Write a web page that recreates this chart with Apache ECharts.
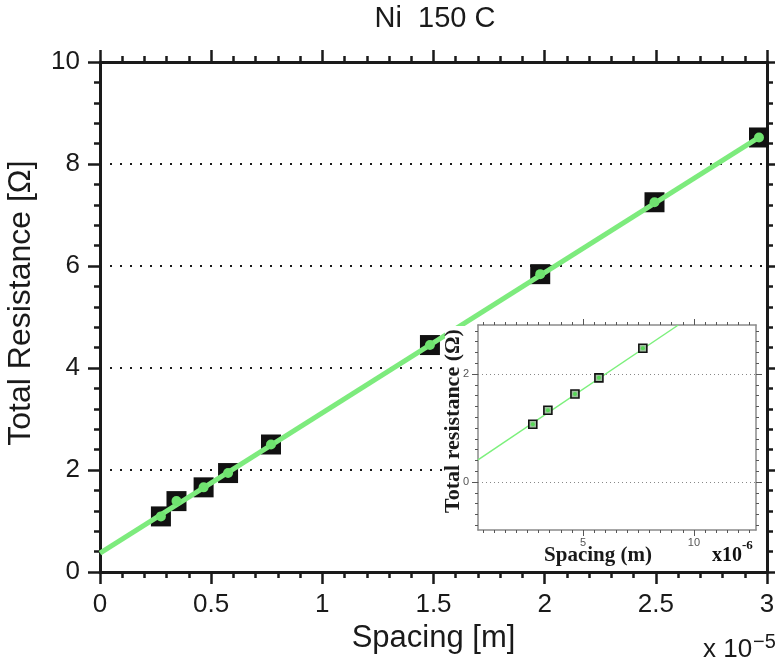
<!DOCTYPE html>
<html>
<head>
<meta charset="utf-8">
<script src="https://cdn.jsdelivr.net/npm/echarts@6/dist/echarts.min.js"></script>
<style>
html,body{margin:0;padding:0;background:#fff;}
#chart{width:775px;height:666px;}
</style>
</head>
<body>
<div id="chart"></div>
<script>
// ---- main chart data (spacing in units of 1e-5 m) ----
const spacing = [0.274, 0.344, 0.466, 0.576, 0.769, 1.484, 1.98, 2.494, 2.964];
const resistance = [1.09, 1.39, 1.66, 1.94, 2.50, 4.45, 5.84, 7.25, 8.52];
const fitSpacing = [0, 2.964];
const fitResistance = [0.37, 8.52];
const xTickLabels = ['0', '0.5', '1', '1.5', '2', '2.5', '3'];
const yTickLabels = ['0', '2', '4', '6', '8', '10'];

// ---- inset data (spacing in units of 1e-6 m) ----
const insetSpacing = [2.74, 3.42, 4.64, 5.72, 7.70];
const insetResistance = [1.07, 1.33, 1.63, 1.93, 2.48];
const insetFitSpacing = [0.27, 9.3];
const insetFitResistance = [0.41, 2.91];
const insetXLabels = [5, 10];
const insetYLabels = [0, 2];
const insetXMinorTicks = [0.5, 1, 1.5, 2, 2.5, 3, 3.5, 4, 4.5, 5, 5.5, 6, 6.5, 7, 7.5, 8, 8.5, 9, 9.5, 10, 10.5, 11, 11.5, 12, 12.5];
const insetYMinorTicks = [-0.8, -0.6, -0.4, -0.2, 0, 0.2, 0.4, 0.6, 0.8, 1, 1.2, 1.4, 1.6, 1.8, 2, 2.2, 2.4, 2.6, 2.8];

const pair = (xs, ys) => xs.map((x, i) => [x, ys[i]]);

const C = '#1a1a1a';
const SANS = '"Liberation Sans", Arial, sans-serif';
const SERIF = '"Liberation Serif", "Times New Roman", serif';

function mainX(pos, withLabel) {
  return {
    gridIndex: 0, type: 'value', position: pos, min: 0, max: 3, interval: 0.5,
    axisLine: {show: true, onZero: false, lineStyle: {color: C, width: 3}},
    axisTick: {show: true, inside: false, length: 12, lineStyle: {color: C, width: 2.5}},
    minorTick: {show: true, splitNumber: 5, length: 6, lineStyle: {color: C, width: 2.5}},
    axisLabel: {show: withLabel, fontSize: 26, margin: 20, color: C, fontFamily: SANS,
      formatter: v => xTickLabels[Math.round(v / 0.5)]},
    splitLine: {show: false},
    name: withLabel ? 'Spacing [m]' : '', nameLocation: 'middle', nameGap: 48,
    nameTextStyle: {fontSize: 31, color: C, fontFamily: SANS}
  };
}
function mainY(pos, withLabel) {
  return {
    gridIndex: 0, type: 'value', position: pos, min: 0, max: 10, interval: 2,
    axisLine: {show: true, onZero: false, lineStyle: {color: C, width: 3}},
    axisTick: {show: true, inside: false, length: 12, lineStyle: {color: C, width: 2.5}},
    minorTick: {show: true, splitNumber: 5, length: 6, lineStyle: {color: C, width: 2.5}},
    axisLabel: {show: withLabel, fontSize: 26, margin: 20, color: C, fontFamily: SANS,
      formatter: v => yTickLabels[Math.round(v / 2)]},
    splitLine: {show: withLabel, lineStyle: {type: [2, 8], color: C, width: 2}}
  };
}

const IC = '#8a8a8a', ITC = '#555';
function insetX(pos, major, withLabel) {
  return {
    gridIndex: 1, type: 'value', position: pos, min: 0.27, max: 12.8, z: 6,
    axisLine: {show: !major, onZero: false, lineStyle: {color: IC, width: 1.5}},
    axisTick: {show: true, inside: false, length: major ? 6 : 3,
      customValues: major ? insetXLabels : insetXMinorTicks, lineStyle: {color: ITC, width: 1}},
    axisLabel: {show: withLabel, customValues: insetXLabels, fontSize: 11, color: ITC, margin: 7, fontFamily: SANS},
    splitLine: {show: false}
  };
}
function insetY(pos, major, withLabel) {
  return {
    gridIndex: 1, type: 'value', position: pos, min: -0.89, max: 2.91, z: 6,
    axisLine: {show: !major, onZero: false, lineStyle: {color: IC, width: 1.5}},
    axisTick: {show: true, inside: false, length: major ? 6 : 3,
      customValues: major ? insetYLabels : insetYMinorTicks, lineStyle: {color: ITC, width: 1}},
    axisLabel: {show: withLabel, customValues: insetYLabels, fontSize: 11, color: ITC, margin: 9, fontFamily: SANS},
    splitLine: {show: false}
  };
}

const txt = (x, y, text, font, extra) => Object.assign({type: 'text', x: x, y: y, z: 8,
  style: {text: text, font: font, fill: C, align: 'center', verticalAlign: 'middle',
    textAlign: 'center', textVerticalAlign: 'middle'}}, extra || {});

const chart = echarts.init(document.getElementById('chart'), null, {renderer: 'canvas'});
chart.setOption({
  animation: false,
  backgroundColor: '#fff',
  title: {
    text: 'Ni  150 C', left: 435, top: 4, textAlign: 'center', padding: 0,
    textStyle: {fontSize: 29, fontWeight: 'normal', color: C, fontFamily: SANS}
  },
  grid: [
    {left: 100, right: 8, top: 62, bottom: 94, containLabel: false, outerBoundsMode: 'none'},
    {left: 478, right: 19, top: 325, bottom: 136, containLabel: false, outerBoundsMode: 'none'}
  ],
  xAxis: [
    mainX('bottom', true), mainX('top', false),
    insetX('bottom', false, true), insetX('top', false, false),
    insetX('bottom', true, false), insetX('top', true, false)
  ],
  yAxis: [
    mainY('left', true), mainY('right', false),
    insetY('left', false, true), insetY('right', false, false),
    insetY('left', true, false), insetY('right', true, false)
  ],
  graphic: {elements: [
    {type: 'rect', shape: {x: 445, y: 326, width: 319, height: 241}, style: {fill: '#fff'}, z: 5},
    txt(21, 303, 'Total Resistance [\u03A9]', '32px ' + SANS, {rotation: Math.PI / 2}),
    txt(453, 421, 'Total resistance (\u03A9)', 'bold 22px ' + SERIF, {rotation: Math.PI / 2}),
    txt(598, 556, 'Spacing (m)', 'bold 21px ' + SERIF),
    {type: 'text', x: 712, y: 556, z: 8,
      style: {text: 'x10', font: 'bold 20px ' + SERIF, fill: '#111',
        align: 'left', verticalAlign: 'middle', textAlign: 'left', textVerticalAlign: 'middle'}},
    {type: 'text', x: 742, y: 546, z: 8,
      style: {text: '-6', font: 'bold 13px ' + SERIF, fill: '#111',
        align: 'left', verticalAlign: 'middle', textAlign: 'left', textVerticalAlign: 'middle'}},
    {type: 'text', x: 703, y: 650, z: 8,
      style: {text: 'x 10', font: '26px ' + SANS, fill: C,
        align: 'left', verticalAlign: 'middle', textAlign: 'left', textVerticalAlign: 'middle'}},
    {type: 'text', x: 753, y: 642, z: 8,
      style: {text: '\u22125', font: '20px ' + SANS, fill: C,
        align: 'left', verticalAlign: 'middle', textAlign: 'left', textVerticalAlign: 'middle'}}
  ]},
  series: [
    {type: 'scatter', xAxisIndex: 0, yAxisIndex: 0, symbol: 'rect', symbolSize: 20,
      itemStyle: {color: '#111', opacity: 1}, data: pair(spacing, resistance), z: 2},
    {type: 'line', xAxisIndex: 0, yAxisIndex: 0, showSymbol: false, symbol: 'none',
      lineStyle: {color: '#7deb7d', width: 5}, data: pair(fitSpacing, fitResistance), z: 3},
    {type: 'scatter', xAxisIndex: 0, yAxisIndex: 0, symbol: 'circle', symbolSize: 10,
      itemStyle: {color: '#6fe36f', opacity: 1}, data: pair(spacing, resistance), z: 4},

    {type: 'line', xAxisIndex: 2, yAxisIndex: 2, showSymbol: false, symbol: 'none', clip: true,
      lineStyle: {color: '#7cf07c', width: 1.5}, data: pair(insetFitSpacing, insetFitResistance), z: 7,
      markLine: {silent: true, symbol: 'none', label: {show: false},
        lineStyle: {type: [1, 3], color: '#888', width: 1},
        data: [{yAxis: insetYLabels[0]}, {yAxis: insetYLabels[1]}]}},
    {type: 'scatter', xAxisIndex: 2, yAxisIndex: 2, symbol: 'rect', symbolSize: 8,
      itemStyle: {color: '#9fbf9f', borderColor: '#111', borderWidth: 1.6, opacity: 1},
      data: pair(insetSpacing, insetResistance), z: 8},
    {type: 'scatter', xAxisIndex: 2, yAxisIndex: 2, symbol: 'circle', symbolSize: 4,
      itemStyle: {color: '#55d855', opacity: 1}, data: pair(insetSpacing, insetResistance), z: 9}
  ]
});
</script>
</body>
</html>
